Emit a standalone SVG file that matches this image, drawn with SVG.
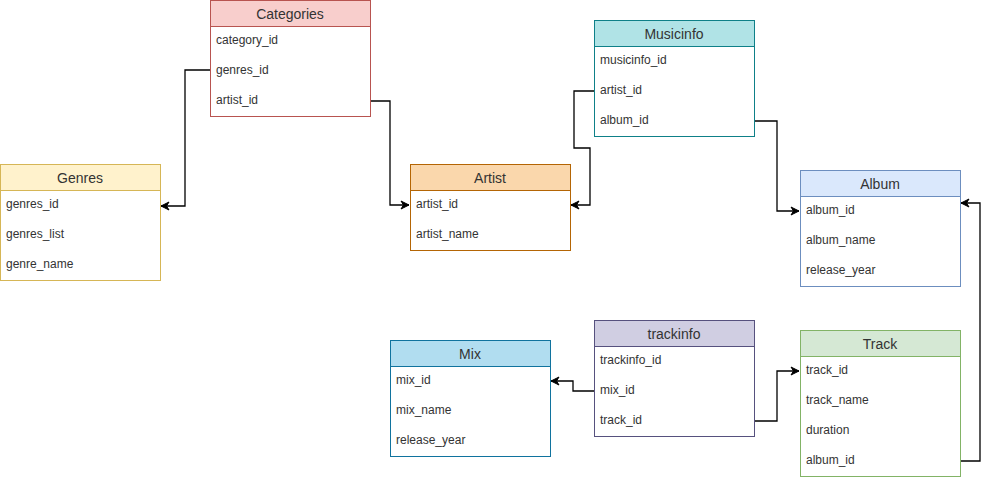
<svg xmlns="http://www.w3.org/2000/svg" width="989" height="480" viewBox="0 0 989 480">
<style>
.b{fill:#ffffff}
.h{font-family:"Liberation Sans",Arial,sans-serif;font-size:14px;fill:#333333;text-anchor:middle}
.r{font-family:"Liberation Sans",Arial,sans-serif;font-size:12px;fill:#333333}
.c{fill:none;stroke:#000000;stroke-width:1.3}
</style>
<defs>
<marker id="a" markerWidth="10" markerHeight="10" refX="9" refY="5" orient="auto" markerUnits="userSpaceOnUse">
<path d="M1,1 L9,5 L1,9 L3.5,5 Z" fill="#000000" stroke="#000000" stroke-width="1"/>
</marker>
</defs>
<rect width="989" height="480" fill="#ffffff"/>
<g id="connectors">
<path class="c" d="M210,70 H185 V206 H161" marker-end="url(#a)"/>
<path class="c" d="M370,101 H390 V205 H409" marker-end="url(#a)"/>
<path class="c" d="M594,91 H574 V148 H590 V205 H571" marker-end="url(#a)"/>
<path class="c" d="M754,121 H777 V211 H799" marker-end="url(#a)"/>
<path class="c" d="M594,391 H573 V381 H551" marker-end="url(#a)"/>
<path class="c" d="M754,421 H777 V371 H799" marker-end="url(#a)"/>
<path class="c" d="M960,461 H980 V203 H961" marker-end="url(#a)"/>
</g>
<g id="categories">
<rect x="210.5" y="0.5" width="160" height="116" class="b" stroke="#b85450"/>
<rect x="210.5" y="0.5" width="160" height="26" fill="#f8cecc" stroke="#b85450"/>
<text x="290" y="19" class="h">Categories</text>
<text x="216" y="44" class="r">category_id</text>
<text x="216" y="74" class="r">genres_id</text>
<text x="216" y="104" class="r">artist_id</text>
</g>
<g id="genres">
<rect x="0.5" y="164.5" width="160" height="116" class="b" stroke="#d6b656"/>
<rect x="0.5" y="164.5" width="160" height="26" fill="#fff2cc" stroke="#d6b656"/>
<text x="80" y="183" class="h">Genres</text>
<text x="6" y="208" class="r">genres_id</text>
<text x="6" y="238" class="r">genres_list</text>
<text x="6" y="268" class="r">genre_name</text>
</g>
<g id="artist">
<rect x="410.5" y="164.5" width="160" height="86" class="b" stroke="#b46504"/>
<rect x="410.5" y="164.5" width="160" height="26" fill="#fad7ac" stroke="#b46504"/>
<text x="490" y="183" class="h">Artist</text>
<text x="416" y="208" class="r">artist_id</text>
<text x="416" y="238" class="r">artist_name</text>
</g>
<g id="musicinfo">
<rect x="594.5" y="20.5" width="160" height="116" class="b" stroke="#0e8088"/>
<rect x="594.5" y="20.5" width="160" height="26" fill="#b0e3e6" stroke="#0e8088"/>
<text x="674" y="39" class="h">Musicinfo</text>
<text x="600" y="64" class="r">musicinfo_id</text>
<text x="600" y="94" class="r">artist_id</text>
<text x="600" y="124" class="r">album_id</text>
</g>
<g id="album">
<rect x="800.5" y="170.5" width="160" height="116" class="b" stroke="#6c8ebf"/>
<rect x="800.5" y="170.5" width="160" height="26" fill="#dae8fc" stroke="#6c8ebf"/>
<text x="880" y="189" class="h">Album</text>
<text x="806" y="214" class="r">album_id</text>
<text x="806" y="244" class="r">album_name</text>
<text x="806" y="274" class="r">release_year</text>
</g>
<g id="mix">
<rect x="390.5" y="340.5" width="160" height="116" class="b" stroke="#10739e"/>
<rect x="390.5" y="340.5" width="160" height="26" fill="#b1ddf0" stroke="#10739e"/>
<text x="470" y="359" class="h">Mix</text>
<text x="396" y="384" class="r">mix_id</text>
<text x="396" y="414" class="r">mix_name</text>
<text x="396" y="444" class="r">release_year</text>
</g>
<g id="trackinfo">
<rect x="594.5" y="320.5" width="160" height="116" class="b" stroke="#56517e"/>
<rect x="594.5" y="320.5" width="160" height="26" fill="#d0cee2" stroke="#56517e"/>
<text x="674" y="339" class="h">trackinfo</text>
<text x="600" y="364" class="r">trackinfo_id</text>
<text x="600" y="394" class="r">mix_id</text>
<text x="600" y="424" class="r">track_id</text>
</g>
<g id="track">
<rect x="800.5" y="330.5" width="160" height="146" class="b" stroke="#82b366"/>
<rect x="800.5" y="330.5" width="160" height="26" fill="#d5e8d4" stroke="#82b366"/>
<text x="880" y="349" class="h">Track</text>
<text x="806" y="374" class="r">track_id</text>
<text x="806" y="404" class="r">track_name</text>
<text x="806" y="434" class="r">duration</text>
<text x="806" y="464" class="r">album_id</text>
</g>
</svg>
